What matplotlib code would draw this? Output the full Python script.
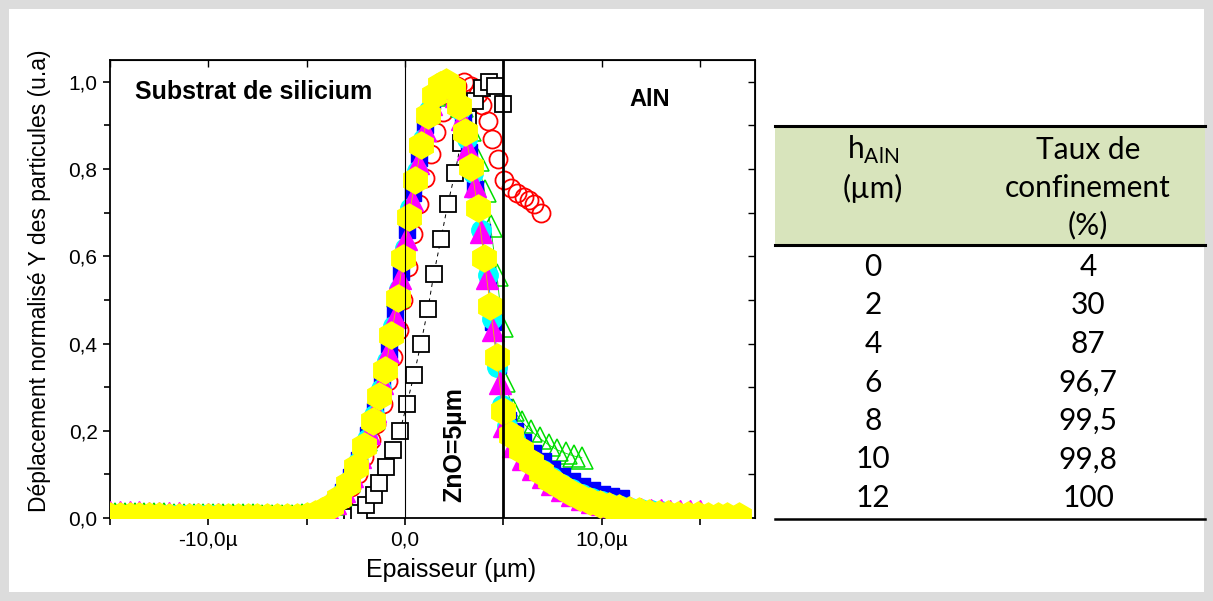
import matplotlib
matplotlib.use('Agg')
import matplotlib.pyplot as plt
from matplotlib.patches import Rectangle
from matplotlib.lines import Line2D

# Déplacement normalisé pour chaque épaisseur d'AlN
x_h0 = [-15.0, -14.0, -13.0, -12.0, -11.0, -10.0, -9.0, -8.0, -7.0, -6.0, -5.0, -4.0, -3.4,
        -2.7, -2.33, -1.98, -1.6, -1.3, -0.96, -0.6, -0.25, 0.1, 0.46, 0.81, 1.17, 1.47,
        1.83, 2.18, 2.54, 2.84, 3.2, 3.55, 3.9, 4.27, 4.6, 4.97]
y_h0 = [0.002, 0.002, 0.002, 0.002, 0.002, 0.002, 0.002, 0.002, 0.002, 0.002, 0.002, 0.002, 0.002,
        0.003, 0.011, 0.03, 0.053, 0.08, 0.118, 0.157, 0.2, 0.262, 0.328, 0.4, 0.48, 0.56,
        0.64, 0.72, 0.79, 0.86, 0.915, 0.955, 0.985, 1.0, 0.99, 0.95]

x_h2 = [-15.0, -14.0, -13.0, -12.0, -11.0, -10.0, -9.0, -8.0, -7.0, -6.0, -5.0, -4.2, -3.8,
        -3.5, -3.16, -2.74, -2.4, -2.07, -1.73, -1.47, -1.13, -0.88, -0.62, -0.32, -0.12, 0.14,
        0.39, 0.7, 1.0, 1.3, 1.6, 1.95, 2.3, 2.65, 3.0, 3.35, 3.69, 3.94, 4.2, 4.45, 4.74,
        5.04, 5.38, 5.72, 6.06, 6.31, 6.56, 6.9]
y_h2 = [0.003, 0.003, 0.003, 0.003, 0.003, 0.003, 0.003, 0.003, 0.003, 0.003, 0.003, 0.004, 0.008,
        0.017, 0.04, 0.071, 0.101, 0.139, 0.178, 0.216, 0.262, 0.315, 0.369, 0.43, 0.499, 0.575,
        0.652, 0.72, 0.78, 0.835, 0.885, 0.93, 0.965, 0.99, 1.0, 0.99, 0.973, 0.946, 0.91, 0.87, 0.824,
        0.774, 0.756, 0.744, 0.736, 0.728, 0.72, 0.70]

x_h4 = [-14.75, -14.25, -13.75, -13.25, -12.75, -12.25, -11.75, -11.25, -10.75, -10.25, -9.75,
        -9.25, -8.75, -8.25, -7.75, -7.25, -6.75, -6.25, -5.75, -5.25, -4.5, -4.1, -3.65, -3.25,
        -2.85, -2.45, -2.0, -1.6, -1.25, -0.95, -0.65, -0.35, -0.05, 0.25, 0.56, 0.88, 1.2, 1.52,
        1.84, 2.16, 2.5, 2.9, 3.3, 3.7, 4.05, 4.35, 4.68, 4.95, 5.05, 5.5, 5.95, 6.4, 6.85, 7.3,
        7.75, 8.2, 8.6, 9.0]
y_h4 = [0.01, 0.01, 0.01, 0.009, 0.009, 0.009, 0.008, 0.008, 0.008, 0.007, 0.007,
        0.007, 0.006, 0.006, 0.006, 0.005, 0.005, 0.005, 0.005, 0.006, 0.01, 0.018, 0.032, 0.053,
        0.085, 0.125, 0.178, 0.23, 0.29, 0.355, 0.43, 0.51, 0.605, 0.7, 0.785, 0.865, 0.93, 0.97,
        0.993, 1.0, 0.985, 0.945, 0.89, 0.82, 0.75, 0.67, 0.556, 0.44, 0.315, 0.248, 0.22, 0.2, 0.183, 0.168,
        0.156, 0.148, 0.142, 0.138]

x_h6 = [-15.0, -14.5, -14.0, -13.5, -13.0, -12.5, -12.0, -11.5, -11.0, -10.5, -10.0, -9.5, -9.0,
        -8.5, -8.0, -7.5, -7.0, -6.5, -6.0, -5.5, -5.0, -4.4, -4.0, -3.55, -3.15, -2.75, -2.35,
        -1.9, -1.5, -1.15, -0.82, -0.5, -0.2, 0.1, 0.4, 0.72, 1.04, 1.35, 1.66, 1.98, 2.3, 2.62,
        2.94, 3.26, 3.58, 3.9, 4.22, 4.5, 4.75, 5.0, 5.25, 5.6, 6.0, 6.5, 7.0, 7.5, 8.0, 8.5,
        9.0, 9.5, 10.0, 10.5, 11.0]
y_h6 = [0.009, 0.009, 0.009, 0.008, 0.008, 0.008, 0.008, 0.007, 0.007, 0.007, 0.007, 0.006, 0.006,
        0.006, 0.006, 0.005, 0.005, 0.005, 0.005, 0.005, 0.006, 0.012, 0.02, 0.036, 0.06, 0.093, 0.134,
        0.19, 0.245, 0.31, 0.385, 0.47, 0.565, 0.66, 0.745, 0.825, 0.9, 0.955, 0.99, 1.0, 0.99, 0.96,
        0.91, 0.84, 0.755, 0.655, 0.55, 0.45, 0.35, 0.255, 0.225, 0.2, 0.175, 0.15, 0.13, 0.112, 0.097, 0.084,
        0.073, 0.064, 0.056, 0.05, 0.046]

x_h8 = [-14.75, -14.25, -13.75, -13.25, -12.75, -12.25, -11.75, -11.25, -10.75, -10.25, -9.75,
        -9.25, -8.75, -8.25, -7.75, -7.25, -6.75, -6.25, -5.75, -5.25, -4.5, -4.05, -3.6, -3.2,
        -2.8, -2.4, -1.95, -1.55, -1.2, -0.9, -0.6, -0.3, -0.02, 0.28, 0.6, 0.92, 1.24, 1.55,
        1.86, 2.18, 2.5, 2.82, 3.14, 3.46, 3.86, 4.2, 4.45, 4.7, 4.95, 5.2, 5.6, 6.0, 6.5, 7.0,
        7.5, 8.0, 8.5, 9.0, 9.5, 10.0, 10.5, 11.0, 11.5, 12.0, 12.5, 13.0]
y_h8 = [0.008, 0.008, 0.008, 0.007, 0.007, 0.007, 0.007, 0.006, 0.006, 0.006, 0.006,
        0.005, 0.005, 0.005, 0.005, 0.004, 0.004, 0.004, 0.004, 0.005, 0.01, 0.019, 0.034, 0.057,
        0.088, 0.128, 0.182, 0.235, 0.295, 0.36, 0.44, 0.525, 0.62, 0.71, 0.795, 0.87, 0.935, 0.975,
        0.995, 1.0, 0.98, 0.935, 0.87, 0.79, 0.66, 0.556, 0.457, 0.346, 0.26, 0.21, 0.18, 0.155, 0.13, 0.11,
        0.093, 0.079, 0.067, 0.056, 0.045, 0.038, 0.032, 0.027, 0.023, 0.02, 0.018, 0.017]

x_h10 = [-15.0, -14.5, -14.0, -13.5, -13.0, -12.5, -12.0, -11.5, -11.0, -10.5, -10.0, -9.5, -9.0,
         -8.5, -8.0, -7.5, -7.0, -6.5, -6.0, -5.5, -5.0, -4.4, -3.95, -3.55, -3.1, -2.7, -2.3,
         -1.85, -1.5, -1.15, -0.85, -0.53, -0.23, 0.05, 0.36, 0.68, 1.0, 1.31, 1.62, 1.94, 2.26,
         2.58, 2.9, 3.22, 3.54, 3.86, 4.18, 4.5, 4.82, 5.02, 5.5, 6.0, 6.5, 7.0, 7.5, 8.0, 8.5,
         9.0, 9.5, 10.0, 10.5, 11.0, 11.5, 12.0, 12.5, 13.0, 13.5, 14.0, 14.5, 15.0]
y_h10 = [0.014, 0.014, 0.013, 0.013, 0.012, 0.012, 0.011, 0.011, 0.01, 0.01, 0.009, 0.009, 0.008,
         0.008, 0.007, 0.007, 0.006, 0.006, 0.005, 0.005, 0.006, 0.012, 0.022, 0.035, 0.062, 0.097, 0.14,
         0.195, 0.245, 0.31, 0.38, 0.46, 0.55, 0.64, 0.73, 0.815, 0.89, 0.95, 0.985, 1.0, 0.995,
         0.968, 0.915, 0.845, 0.76, 0.655, 0.55, 0.43, 0.31, 0.21, 0.165, 0.135, 0.112, 0.093, 0.077, 0.064, 0.053,
         0.044, 0.037, 0.031, 0.027, 0.024, 0.022, 0.02, 0.019, 0.018, 0.017, 0.017, 0.016, 0.016]

x_h12 = [-15.0, -14.5, -14.0, -13.5, -13.0, -12.5, -12.0, -11.5, -11.0, -10.5, -10.0, -9.5, -9.0,
         -8.5, -8.0, -7.5, -7.0, -6.5, -6.0, -5.5, -5.0, -4.6, -4.2, -3.75, -3.35, -2.9, -2.5,
         -2.08, -1.65, -1.3, -1.0, -0.7, -0.36, -0.1, 0.2, 0.52, 0.84, 1.16, 1.47, 1.78, 2.1,
         2.42, 2.74, 3.06, 3.38, 3.7, 4.02, 4.34, 4.66, 4.98, 5.4, 5.9, 6.4, 6.9, 7.4, 7.9, 8.4,
         8.9, 9.4, 9.9, 10.4, 10.9, 11.4, 11.9, 12.4, 12.9, 13.4, 13.9, 14.4, 14.9, 15.4, 15.9,
         16.4, 17.0]
y_h12 = [0.004, 0.004, 0.004, 0.004, 0.004, 0.004, 0.003, 0.003, 0.003, 0.003, 0.003, 0.003, 0.003,
         0.002, 0.002, 0.002, 0.002, 0.002, 0.002, 0.003, 0.005, 0.009, 0.016, 0.027, 0.045, 0.078, 0.116,
         0.166, 0.222, 0.28, 0.34, 0.42, 0.505, 0.597, 0.69, 0.775, 0.855, 0.925, 0.97, 0.993, 1.0,
         0.985, 0.945, 0.885, 0.805, 0.71, 0.597, 0.485, 0.37, 0.245, 0.19, 0.155, 0.128, 0.106, 0.088, 0.073, 0.06,
         0.049, 0.04, 0.033, 0.027, 0.022, 0.018, 0.015, 0.012, 0.01, 0.009, 0.008, 0.007, 0.006, 0.005, 0.005,
         0.004, 0.004]

# Tableau du taux de confinement
h_aln = ['0', '2', '4', '6', '8', '10', '12']
taux = ['4', '30', '87', '96,7', '99,5', '99,8', '100']

x_ticks = [-15, -10, -5, 0, 5, 10, 15]
x_tick_labels = ['', '-10,0µ', '', '0,0', '', '10,0µ', '']
y_ticks = [0.0, 0.2, 0.4, 0.6, 0.8, 1.0]
y_tick_labels = ['0,0', '0,2', '0,4', '0,6', '0,8', '1,0']

plt.rcParams['font.family'] = ['Liberation Sans', 'DejaVu Sans']
plt.rcParams['mathtext.fontset'] = 'custom'
plt.rcParams['mathtext.rm'] = 'Lato'

W, H = 1213, 601
fig = plt.figure(figsize=(W / 100, H / 100), dpi=100, facecolor='#dcdcdc')

def fx(x):
    return x / W

def fy(y):
    return 1 - y / H

# cadre blanc
fig.add_artist(Rectangle((fx(9), fy(592)), fx(1204) - fx(9), fy(9) - fy(592),
                         transform=fig.transFigure, facecolor='white', edgecolor='none', zorder=0))

ax = fig.add_axes([fx(110), fy(518), fx(755) - fx(110), fy(60) - fy(518)])

ax.plot(x_h2, y_h2, ls='none', marker='o', ms=13, mfc='none', mec='#ff0000', mew=1.3, zorder=2)
ax.plot(x_h0, y_h0, ls=(0, (4, 4)), lw=0.7, color='black', marker='s', ms=12, mfc='white',
        mec='black', mew=1.3, zorder=3)
ax.plot(x_h4, y_h4, ls='-', lw=0.6, color='#00dd00', marker='^', ms=16, mfc='none',
        mec='#00dd00', mew=1.1, zorder=4)
ax.plot(x_h6, y_h6, ls='-', lw=0.6, color='#0000ff', marker='s', ms=12, mfc='#0000ff',
        mec='#0000ff', zorder=5)
ax.plot(x_h8, y_h8, ls='-', lw=0.6, color='#00ffff', marker='o', ms=14, mfc='#00ffff',
        mec='#00ffff', zorder=6)
ax.plot(x_h10, y_h10, ls='-', lw=0.6, color='#ff00ff', marker='^', ms=16.5, mfc='#ff00ff',
        mec='#ff00ff', zorder=7)
ax.plot(x_h12, y_h12, ls='-', lw=0.6, color='#e0c000', marker='h', ms=19.5, mfc='#ffff00',
        mec='#ffff00', zorder=8)

ax.axvline(0, color='black', lw=0.8, zorder=10)
ax.axvline(5, color='black', lw=2.0, zorder=10)

ax.set_xlim(-15, 17.8)
ax.set_ylim(0, 1.05)
ax.set_xticks(x_ticks)
ax.set_xticklabels(x_tick_labels)
ax.set_yticks(y_ticks)
ax.set_yticklabels(y_tick_labels)
ax.set_yticks([0.1, 0.3, 0.5, 0.7, 0.9], minor=True)
ax.tick_params(axis='both', which='major', labelsize=15, length=5, width=1.2, direction='out',
               pad=4)
ax.tick_params(axis='both', which='minor', length=4, width=1.2, direction='out')
for s in ax.spines.values():
    s.set_linewidth(1.3)

# ticks intérieurs en haut et à droite
axt = ax.secondary_xaxis('top')
axt.set_xticks(x_ticks)
axt.tick_params(direction='in', length=5, width=1.0, labeltop=False)
axr = ax.secondary_yaxis('right')
axr.set_yticks([0.1, 0.2, 0.3, 0.4, 0.5, 0.6, 0.7, 0.8, 0.9, 1.0])
axr.tick_params(direction='in', length=5, width=1.0, labelright=False)

fig.text(fx(451), fy(570), 'Epaisseur (µm)', fontsize=18, ha='center', va='center')
fig.text(fx(40), fy(281), 'Déplacement normalisé Y des particules (u.a)', fontsize=16.5,
         rotation=90, ha='center', va='center')
fig.text(fx(135), fy(92), 'Substrat de silicium', fontsize=18, fontweight='bold',
         ha='left', va='center')
fig.text(fx(650), fy(100), 'AlN', fontsize=17, fontweight='bold', ha='center', va='center')
fig.text(fx(454), fy(445), 'ZnO=5µm', fontsize=18, fontweight='bold', rotation=90,
         ha='center', va='center')

# tableau à droite
fig.add_artist(Rectangle((fx(775), fy(244)), fx(1205) - fx(775), fy(127) - fy(244),
                         transform=fig.transFigure, facecolor='#d8e4bc', edgecolor='none'))
for yy, lw in [(126, 2.2), (245, 2.2), (519, 1.8)]:
    fig.add_artist(Line2D([fx(775), fx(1205)], [fy(yy), fy(yy)], color='black', lw=lw,
                          transform=fig.transFigure))

tfont = ['Lato', 'DejaVu Sans']
fs = 21.5
fig.text(fx(873), fy(150), r'h$_{\mathregular{AlN}}$', fontsize=fs, family=tfont,
         ha='center', va='center')
fig.text(fx(873), fy(188), '(µm)', fontsize=fs, family=tfont, ha='center', va='center')
fig.text(fx(1088), fy(150), 'Taux de', fontsize=fs, family=tfont, ha='center', va='center')
fig.text(fx(1088), fy(188), 'confinement', fontsize=fs, family=tfont, ha='center', va='center')
fig.text(fx(1088), fy(225), '(%)', fontsize=fs, family=tfont, ha='center', va='center')
for i in range(len(h_aln)):
    yy = 267 + i * 38.5
    fig.text(fx(873), fy(yy), h_aln[i], fontsize=fs, family=tfont, ha='center', va='center')
    fig.text(fx(1088), fy(yy), taux[i], fontsize=fs, family=tfont, ha='center', va='center')

fig.savefig('out.png', dpi=100, facecolor=fig.get_facecolor())
